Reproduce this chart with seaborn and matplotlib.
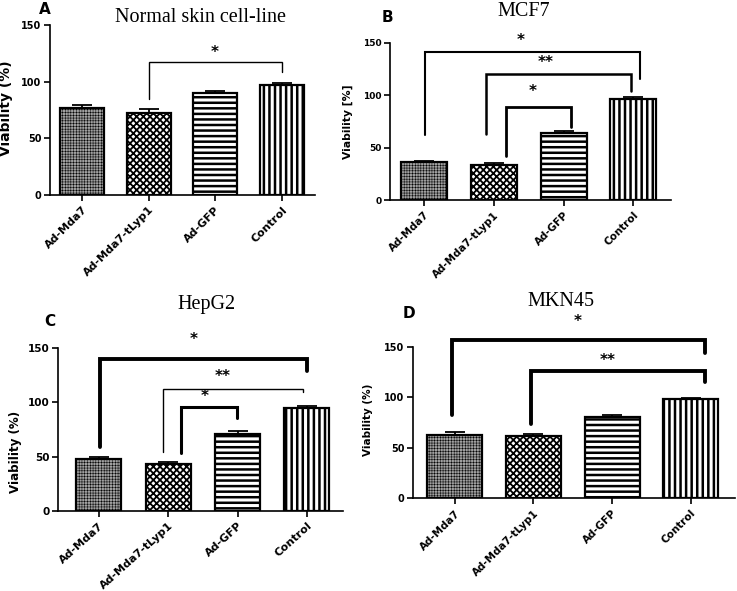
import matplotlib
matplotlib.use("Agg")
import matplotlib.pyplot as plt
import seaborn as sns
import pandas as pd
import numpy as np

# ---------------- data ----------------
categories = ["Ad-Mda7", "Ad-Mda7-tLyp1", "Ad-GFP", "Control"]

titles = ["Normal skin cell-line", "MCF7", "HepG2", "MKN45"]
letters = ["A", "B", "C", "D"]
ylabels = ["Viability (%)", "Viability [%]", "Viability (%)", "Viability (%)"]

values_A = [77, 72.5, 90, 97.5]
errors_A = [2, 3, 2, 1]
values_B = [36, 33, 64, 96.5]
errors_B = [1.5, 2, 2, 1.5]
values_C = [47.5, 43, 71, 95]
errors_C = [2, 2.5, 3, 2]
values_D = [63, 61.5, 80.5, 98]
errors_D = [2.5, 2, 2, 1]

# significance brackets: (x_left, x_right, y_bar, y_left_end, y_right_end, label, label_x, label_y, lw)
brackets_A = [(1.0, 3.0, 117.6, 84.7, 108.8, "*", 2.0, 126, 1.0)]
brackets_B = [(0.01, 3.09, 141.7, 62, 115.6, "*", 1.38, 152, 1.5),
              (0.88, 2.97, 120.4, 63, 104.4, "**", 1.74, 131, 1.8),
              (1.18, 2.10, 89, 42, 70, "*", 1.56, 103.5, 2.0)]
brackets_C = [(0.01, 3.0, 139.6, 58.6, 128.8, "*", 1.36, 158, 2.8),
              (0.92, 2.94, 112.3, 54.6, 109.8, "**", 1.79, 124, 1.0),
              (1.18, 1.99, 95.4, 53.4, 86, "*", 1.53, 105, 2.2)]
brackets_D = [(-0.04, 3.18, 156.6, 82.4, 144, "*", 1.56, 175, 2.8),
              (0.97, 3.18, 126.2, 74, 114.7, "**", 1.94, 136, 2.8)]

# ---------------- style ----------------
sns.set_theme(style="ticks")
plt.rcParams["font.family"] = ["DejaVu Sans"]
plt.rcParams["hatch.linewidth"] = 1.6
for k in ["text.color", "axes.labelcolor", "xtick.color", "ytick.color", "axes.edgecolor"]:
    plt.rcParams[k] = "black"

W, H = 737, 591
fig = plt.figure(figsize=(W / 100, H / 100), dpi=100)

def ax_at(l, t, r, b):
    return fig.add_axes([l / W, 1 - b / H, (r - l) / W, (b - t) / H])

panels = [
    dict(box=(50, 25, 315, 195), xlim=(-0.48, 3.5), width=0.66, vals=values_A, errs=errors_A,
         br=brackets_A, ylab_xy=(-0.14, 0.51), ylab_fs=10, xt_fs=8, yt_fs=7, rot=45,
         title_xy=(201, 17), letter_xy=(45, 10)),
    dict(box=(390, 43, 671, 200), xlim=(-0.49, 3.54), width=0.66, vals=values_B, errs=errors_B,
         br=brackets_B, ylab_xy=(-0.13, 0.50), ylab_fs=7.8, xt_fs=7.5, yt_fs=6.5, rot=45,
         title_xy=(524, 12), letter_xy=(387, 17.5)),
    dict(box=(58, 348, 343, 511), xlim=(-0.59, 3.52), width=0.65, vals=values_C, errs=errors_C,
         br=brackets_C, ylab_xy=(-0.128, 0.36), ylab_fs=8.6, xt_fs=8, yt_fs=7.5, rot=42,
         title_xy=(206, 304.5), letter_xy=(50, 322)),
    dict(box=(413, 346.7, 735, 498.3), xlim=(-0.53, 3.56), width=0.70, vals=values_D, errs=errors_D,
         br=brackets_D, ylab_xy=(-0.124, 0.52), ylab_fs=7.5, xt_fs=7.5, yt_fs=7, rot=45,
         title_xy=(561, 301.5), letter_xy=(409, 314)),
]

facecolors = {"Ad-Mda7": "#a0a0a0", "Ad-Mda7-tLyp1": "white", "Ad-GFP": "white", "Control": "white"}
hatches = ["++++++", "xxxxx", "---", "|||"]
hatch_lws = [0.35, 1.3, 1.8, 1.8]

for i, p in enumerate(panels):
    ax = ax_at(*p["box"])
    df = pd.DataFrame({"group": categories, "viability": p["vals"]})
    sns.barplot(data=df, x="group", y="viability", hue="group", palette=facecolors,
                order=categories, hue_order=categories, width=p["width"],
                edgecolor="black", linewidth=1.6, legend=False, ax=ax, errorbar=None)
    for cont, h, hlw in zip(ax.containers, hatches, hatch_lws):
        for bar in cont:
            bar.set_hatch(h)
            if hasattr(bar, "set_hatch_linewidth"):
                bar.set_hatch_linewidth(hlw)
    xs = np.arange(len(categories))
    ax.errorbar(xs, p["vals"], yerr=[np.zeros(len(xs)), p["errs"]], fmt="none",
                ecolor="black", elinewidth=1.3, capsize=7, capthick=1.3, zorder=3)
    ax.set_xlim(*p["xlim"])
    ax.set_ylim(0, 150)
    ax.set_yticks([0, 50, 100, 150])
    ax.set_yticklabels(["0", "50", "100", "150"], fontsize=p["yt_fs"], fontweight="bold")
    ax.set_xticks(xs)
    ax.set_xticklabels(categories, rotation=p["rot"], ha="right", rotation_mode="anchor",
                       fontsize=p["xt_fs"], fontweight="bold")
    ax.set_xlabel("")
    ax.set_ylabel(ylabels[i], fontsize=p["ylab_fs"], fontweight="bold")
    ax.yaxis.set_label_coords(*p["ylab_xy"])
    sns.despine(ax=ax)
    for s in ["left", "bottom"]:
        ax.spines[s].set_linewidth(1.2)
        ax.spines[s].set_color("black")
    ax.tick_params(axis="both", length=4, width=1.2, color="black", pad=2, direction="out")
    ax.tick_params(axis="x", pad=3)
    ax.set_facecolor("none")

    for (x1, x2, yb, y1e, y2e, lab, lx, ly, lw) in p["br"]:
        ax.plot([x1, x1, x2, x2], [y1e, yb, yb, y2e], color="black", lw=lw,
                clip_on=False, solid_joinstyle="miter", zorder=4)
        ax.text(lx, ly, lab, ha="center", va="center", fontsize=11, fontweight="bold",
                color="black", clip_on=False)

    tx, ty = p["title_xy"]
    fig.text(tx / W, 1 - ty / H, titles[i], ha="center", va="center",
             fontsize=14.5, family="Liberation Serif", color="black")
    lx_, ly_ = p["letter_xy"]
    fig.text(lx_ / W, 1 - ly_ / H, letters[i], ha="center", va="center",
             fontsize=11, fontweight="bold", color="black")

fig.savefig("out.png", dpi=100)
